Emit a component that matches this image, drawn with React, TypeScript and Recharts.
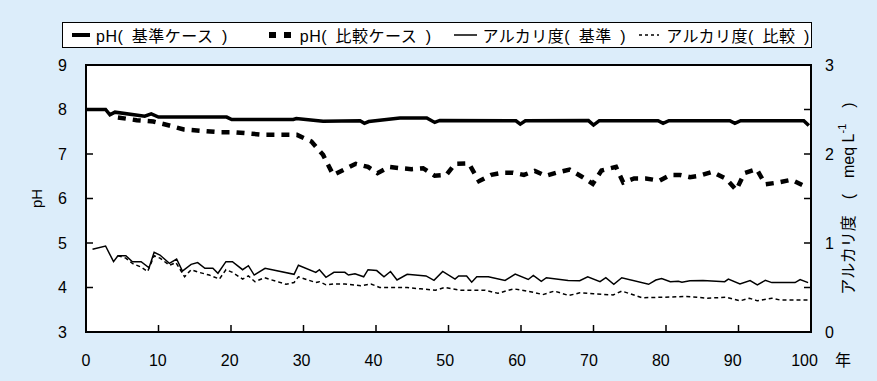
import { LineChart, Line, XAxis, YAxis, ReferenceArea, Legend, Label } from "recharts"

const FONT = '"Liberation Sans", Arial, "Noto Sans CJK JP", sans-serif'
const BG = "#dcedfa"

const YEAR_TICKS = [0, 10, 20, 30, 40, 50, 60, 70, 80, 90, 100]
const PH_TICKS = [3, 4, 5, 6, 7, 8, 9]
const ALK_TICKS = [0, 0.5, 1, 1.5, 2, 2.5, 3]

const SERIES_NAMES = ["pH(\u2002基準ケース\u2002)", "pH(\u2002比較ケース\u2002)", "アルカリ度(\u2002基準\u2002)", "アルカリ度(\u2002比較\u2002)"]

// pH, base case
const PH_BASE_YEARS = [0, 2.7, 3.3, 4, 8.1, 9, 10, 19.4, 20.1, 28.6, 29, 32.7, 37.8, 38.4, 39, 43.3, 47, 48.1, 48.8, 59.3, 59.9, 60.6, 69.3, 70, 70.8, 78.9, 79.6, 80.4, 88.8, 89.5, 90.3, 99, 99.7]
const PH_BASE_VALUES = [8.0, 8.0, 7.88, 7.94, 7.85, 7.9, 7.83, 7.83, 7.775, 7.775, 7.795, 7.735, 7.745, 7.69, 7.73, 7.81, 7.81, 7.71, 7.755, 7.745, 7.67, 7.745, 7.75, 7.65, 7.75, 7.75, 7.69, 7.75, 7.75, 7.69, 7.75, 7.75, 7.64]

// pH, comparison case
const PH_COMP_YEARS = [4.4, 7, 9.3, 11.5, 13.5, 16, 18.4, 20.4, 22.6, 24.6, 29.1, 31.1, 32.7, 34.1, 35.5, 37.2, 38.9, 40.2, 41.8, 43.4, 44.9, 46.5, 48.1, 49.7, 50.9, 52.8, 54.2, 55.9, 57.5, 58.9, 60.4, 61.9, 63.4, 64.9, 66.7, 68.4, 69.9, 71.1, 73.1, 74.1, 75.6, 77.2, 79.1, 80.6, 81.9, 83.3, 84.6, 86.4, 88.3, 89.7, 90.8, 92.5, 93.7, 95.5, 97.3, 99.1]
const PH_COMP_VALUES = [7.82, 7.76, 7.73, 7.64, 7.55, 7.52, 7.49, 7.49, 7.46, 7.43, 7.43, 7.28, 6.98, 6.53, 6.64, 6.78, 6.71, 6.57, 6.71, 6.68, 6.66, 6.68, 6.51, 6.53, 6.78, 6.79, 6.39, 6.53, 6.58, 6.58, 6.53, 6.62, 6.51, 6.58, 6.65, 6.49, 6.33, 6.63, 6.71, 6.36, 6.45, 6.45, 6.4, 6.53, 6.53, 6.48, 6.51, 6.6, 6.44, 6.19, 6.57, 6.66, 6.32, 6.36, 6.42, 6.28]

// alkalinity, base case (meq/L)
const ALK_BASE_YEARS = [0.9, 2.7, 3.8, 4.4, 5.5, 6.4, 7.6, 8.7, 9.4, 10.2, 11.5, 12.5, 13.3, 14.5, 15.4, 16.4, 17.5, 18.2, 19.3, 20.2, 21.6, 22.4, 23.2, 24.7, 28.7, 29.3, 31.7, 32.2, 33.1, 34.2, 35.7, 36.2, 37.1, 38.3, 38.9, 40.1, 41.1, 42, 42.9, 44.3, 46.9, 48, 49.2, 50.9, 51.4, 52.5, 53.2, 53.9, 55.5, 57.8, 59.2, 61, 61.7, 62.8, 63.5, 66.5, 68.1, 69.2, 70.9, 71.7, 72.8, 73.9, 77.6, 78.6, 79.4, 80.6, 81.7, 82.2, 83.3, 85.1, 88.1, 88.6, 90.2, 91.6, 92.6, 93.7, 94.6, 97.8, 98.5, 99.6]
const ALK_BASE_VALUES = [0.93, 0.966, 0.79, 0.857, 0.857, 0.79, 0.79, 0.722, 0.896, 0.865, 0.772, 0.82, 0.685, 0.76, 0.78, 0.716, 0.716, 0.66, 0.79, 0.79, 0.7, 0.745, 0.64, 0.716, 0.648, 0.75, 0.67, 0.7, 0.615, 0.67, 0.67, 0.64, 0.655, 0.62, 0.7, 0.69, 0.62, 0.68, 0.584, 0.648, 0.63, 0.58, 0.68, 0.595, 0.63, 0.63, 0.56, 0.62, 0.62, 0.58, 0.65, 0.59, 0.635, 0.57, 0.61, 0.58, 0.577, 0.62, 0.565, 0.61, 0.536, 0.61, 0.536, 0.584, 0.6, 0.565, 0.57, 0.56, 0.575, 0.58, 0.565, 0.595, 0.54, 0.577, 0.53, 0.58, 0.555, 0.555, 0.59, 0.555]

// alkalinity, comparison case (meq/L)
const ALK_COMP_YEARS = [4.4, 5.5, 6.4, 7.6, 8.5, 9.4, 10.2, 11.5, 12.4, 13.6, 14.5, 15.6, 17, 18.4, 19.3, 20.2, 21.6, 22.4, 23.3, 24.6, 27.6, 28.7, 29.3, 31.7, 32.2, 33.1, 34.3, 35.7, 37.9, 39.3, 40.5, 42.5, 44.3, 46.1, 48.2, 49.5, 51.6, 53.7, 55, 56.8, 59, 61.8, 63, 64.6, 66.6, 68.1, 70, 72.7, 73.9, 76.7, 79.4, 82.8, 85.7, 88.3, 90.2, 91.5, 92.6, 94.6, 95.7, 99.6]
const ALK_COMP_VALUES = [0.857, 0.83, 0.77, 0.73, 0.68, 0.857, 0.83, 0.75, 0.78, 0.62, 0.7, 0.67, 0.64, 0.595, 0.7, 0.67, 0.595, 0.63, 0.565, 0.61, 0.536, 0.556, 0.62, 0.556, 0.565, 0.53, 0.54, 0.54, 0.52, 0.54, 0.5, 0.5, 0.5, 0.485, 0.47, 0.5, 0.47, 0.47, 0.47, 0.435, 0.485, 0.445, 0.42, 0.46, 0.41, 0.44, 0.43, 0.416, 0.46, 0.385, 0.39, 0.4, 0.38, 0.39, 0.35, 0.38, 0.35, 0.38, 0.36, 0.36]

const toPoints = (years: number[], values: number[]) => years.map((year, i) => ({ year, value: values[i] }))

const LEGEND_WIDTHS = [196, 187, 185, 172]

function LegendIcon({ index }: { index: number }) {
  if (index === 0)
    return (
      <svg width={18} height={10} style={{ marginRight: 6 }}>
        <line x1={0} y1={5} x2={18} y2={5} stroke="#000" strokeWidth={4} />
      </svg>
    )
  if (index === 1)
    return (
      <svg width={24} height={10} style={{ marginRight: 8 }}>
        <line x1={1} y1={5} x2={23} y2={5} stroke="#000" strokeWidth={6} strokeDasharray="7 8" />
      </svg>
    )
  if (index === 2)
    return (
      <svg width={23} height={10} style={{ marginRight: 5 }}>
        <line x1={0} y1={5} x2={23} y2={5} stroke="#000" strokeWidth={1.5} />
      </svg>
    )
  return (
    <svg width={20} height={10} style={{ marginRight: 7 }}>
      <line x1={0} y1={5} x2={20} y2={5} stroke="#000" strokeWidth={1.5} strokeDasharray="3 3" />
    </svg>
  )
}

const renderLegend = () => (
  <div
    style={{
      display: "flex",
      alignItems: "center",
      height: 26,
      boxSizing: "border-box",
      border: "1.5px solid #000",
      background: "#fff",
      paddingLeft: 9,
      fontFamily: FONT,
      fontSize: 16,
      letterSpacing: 0.5,
      color: "#000",
    }}
  >
    {SERIES_NAMES.map((name, i) => (
      <div key={name} style={{ display: "flex", alignItems: "center", width: LEGEND_WIDTHS[i], whiteSpace: "nowrap" }}>
        <LegendIcon index={i} />
        <span>{name}</span>
      </div>
    ))}
  </div>
)

function VerticalTitle(props: any) {
  const { viewBox, dx, size, children } = props
  const cx = viewBox.x + dx
  const cy = viewBox.y + viewBox.height / 2
  return (
    <text
      x={cx}
      y={cy}
      transform={`rotate(-90 ${cx} ${cy})`}
      textAnchor="middle"
      dominantBaseline="central"
      fontFamily={FONT}
      fontSize={size}
      fill="#000"
    >
      {children}
    </text>
  )
}

function YearUnit(props: any) {
  const { viewBox } = props
  return (
    <text x={viewBox.x + viewBox.width + 32} y={366} textAnchor="middle" fontFamily={FONT} fontSize={16} fill="#000">
      年
    </text>
  )
}

// year labels sit slightly left of their ticks in the original, drifting toward the right end
function YearTick(props: any) {
  const { x, y, payload } = props
  return (
    <text x={x - payload.value * 0.065} y={y} dy="0.71em" textAnchor="middle" fontFamily={FONT} fontSize={16} fill="#000">
      {payload.value}
    </text>
  )
}

const tickStyle = { fontFamily: FONT, fontSize: 16, fill: "#000" }

export default function App() {
  return (
    <div style={{ position: "absolute", left: 0, top: 0, width: 877, height: 381, background: BG }}>
      <LineChart width={877} height={381} margin={{ top: 65, right: 16, bottom: 9, left: 26 }}>
        <XAxis
          dataKey="year"
          type="number"
          domain={[0, 100]}
          ticks={YEAR_TICKS}
          allowDuplicatedCategory={false}
          axisLine={false}
          tickLine={{ stroke: "#000", strokeWidth: 1.5 }}
          tickSize={-7}
          tickMargin={30}
          height={40}
          tick={<YearTick />}
          interval={0}
        >
          <Label content={<YearUnit />} />
        </XAxis>
        <YAxis
          yAxisId="ph"
          domain={[3, 9]}
          ticks={PH_TICKS}
          axisLine={false}
          tickLine={{ stroke: "#000", strokeWidth: 1.5 }}
          tickSize={-7}
          tickMargin={26}
          width={60}
          tick={tickStyle}
          interval={0}
        >
          <Label content={<VerticalTitle dx={10} size={15}>pH</VerticalTitle>} />
        </YAxis>
        <YAxis
          yAxisId="alk"
          orientation="right"
          domain={[0, 3]}
          ticks={ALK_TICKS}
          tickFormatter={(v: number) => (Number.isInteger(v) ? String(v) : "")}
          axisLine={false}
          tickLine={{ stroke: "#000", strokeWidth: 1.5 }}
          tickSize={-7}
          tickMargin={21}
          width={50}
          tick={tickStyle}
          interval={0}
        >
          <Label
            content={
              <VerticalTitle dx={37} size={16}>
                アルカリ度　(　meq L
                <tspan dy={-6} fontSize={11}>
                  -1
                </tspan>
                <tspan dy={6}>　)</tspan>
              </VerticalTitle>
            }
          />
        </YAxis>
        <ReferenceArea
          yAxisId="ph"
          x1={0}
          x2={100}
          y1={3}
          y2={9}
          fill="#fff"
          fillOpacity={1}
          stroke="#000"
          strokeWidth={2}
          ifOverflow="visible"
        />
        <Legend
          layout="horizontal"
          verticalAlign="middle"
          align="center"
          content={renderLegend}
          wrapperStyle={{ top: 22, left: 62, width: 750 }}
        />
        <Line
          yAxisId="ph"
          data={toPoints(PH_BASE_YEARS, PH_BASE_VALUES)}
          dataKey="value"
          name={SERIES_NAMES[0]}
          stroke="#000"
          strokeWidth={3.5}
          dot={false}
          isAnimationActive={false}
        />
        <Line
          yAxisId="ph"
          data={toPoints(PH_COMP_YEARS, PH_COMP_VALUES)}
          dataKey="value"
          name={SERIES_NAMES[1]}
          stroke="#000"
          strokeWidth={4.5}
          strokeDasharray="8 7"
          dot={false}
          isAnimationActive={false}
        />
        <Line
          yAxisId="alk"
          data={toPoints(ALK_BASE_YEARS, ALK_BASE_VALUES)}
          dataKey="value"
          name={SERIES_NAMES[2]}
          stroke="#000"
          strokeWidth={1.5}
          dot={false}
          isAnimationActive={false}
        />
        <Line
          yAxisId="alk"
          data={toPoints(ALK_COMP_YEARS, ALK_COMP_VALUES)}
          dataKey="value"
          name={SERIES_NAMES[3]}
          stroke="#000"
          strokeWidth={1.5}
          strokeDasharray="4 3"
          dot={false}
          isAnimationActive={false}
        />
      </LineChart>
    </div>
  )
}
